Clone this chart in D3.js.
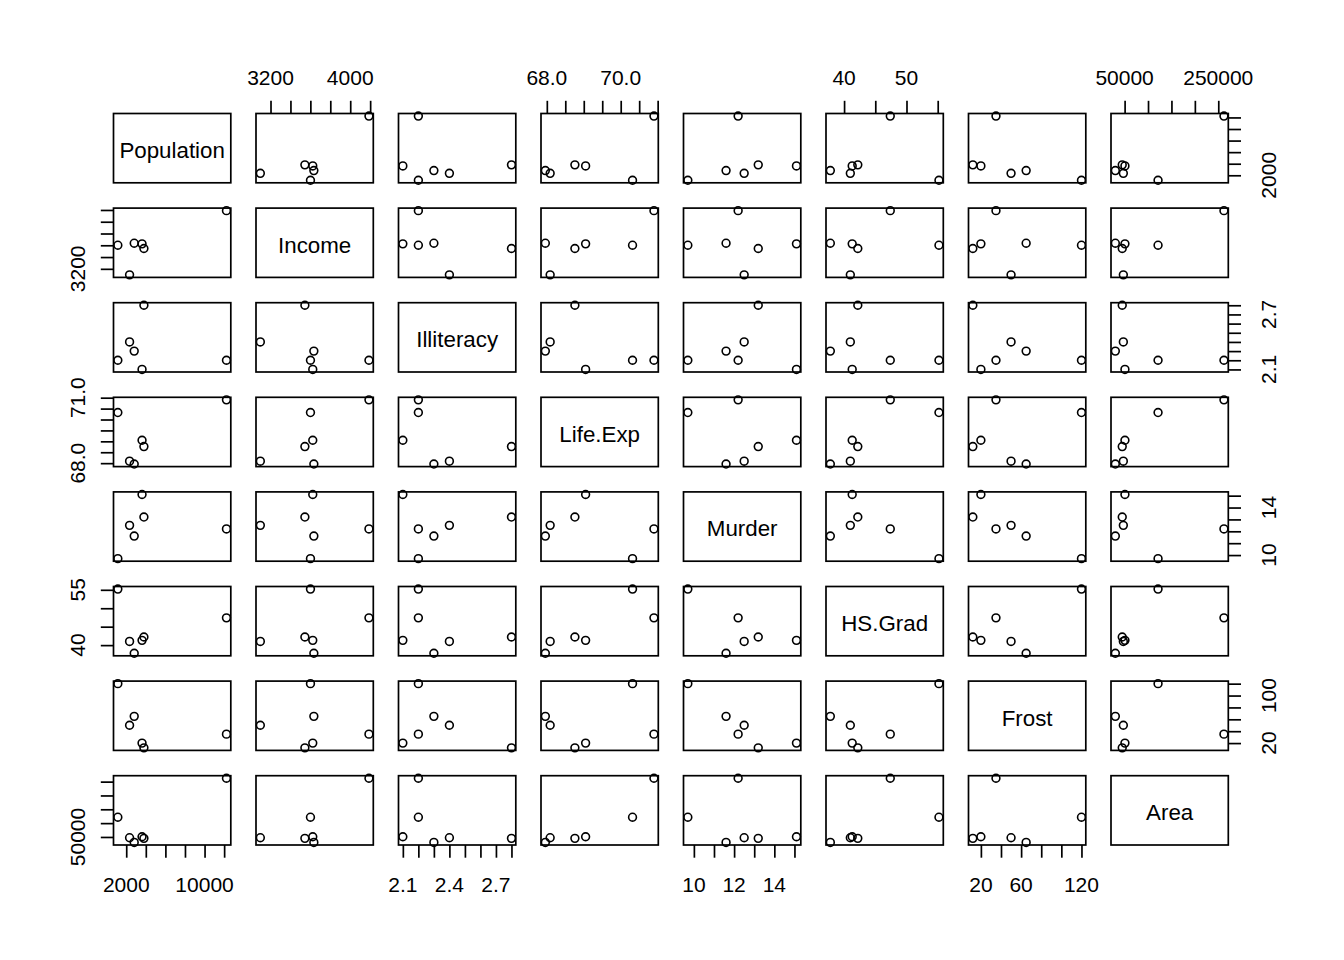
<!DOCTYPE html>
<html><head><meta charset="utf-8">
<script src="https://cdn.jsdelivr.net/npm/d3@7"></script>
<style>
body{margin:0;background:#fff}
text{font-family:"Liberation Sans",Arial,sans-serif;fill:#000}
</style>
</head><body>
<svg id="chart" width="1344" height="960"></svg>
<script>
// Data: state.x77 rows (Alabama, Louisiana, Mississippi, New Mexico, South Carolina, Texas)
const variables = ["Population","Income","Illiteracy","Life.Exp","Murder","HS.Grad","Frost","Area"];
const states = ["Alabama","Louisiana","Mississippi","New Mexico","South Carolina","Texas"];
const population = [3615, 3806, 2341, 1144, 2816, 12237];
const income     = [3624, 3545, 3098, 3601, 3635, 4188];
const illiteracy = [2.1, 2.8, 2.4, 2.2, 2.3, 2.2];
const lifeExp    = [69.05, 68.76, 68.09, 70.32, 67.96, 70.90];
const murder     = [15.1, 13.2, 12.5, 9.7, 11.6, 12.2];
const hsGrad     = [41.3, 42.2, 41.0, 55.2, 37.8, 47.4];
const frost      = [20, 12, 50, 120, 65, 35];
const area       = [50708, 44930, 47296, 121412, 30225, 262134];
const columns = [population, income, illiteracy, lifeExp, murder, hsGrad, frost, area];

// Tick marks per variable
const ticksPopulation = [2000, 4000, 6000, 8000, 10000, 12000];
const ticksIncome     = [3200, 3400, 3600, 3800, 4000, 4200];
const ticksIlliteracy = [2.1, 2.2, 2.3, 2.4, 2.5, 2.6, 2.7, 2.8];
const ticksLifeExp    = [68.0, 68.5, 69.0, 69.5, 70.0, 70.5, 71.0];
const ticksMurder     = [10, 11, 12, 13, 14, 15];
const ticksHsGrad     = [40, 45, 50, 55];
const ticksFrost      = [20, 40, 60, 80, 100, 120];
const ticksArea       = [50000, 100000, 150000, 200000, 250000];
const tickSets = [ticksPopulation, ticksIncome, ticksIlliteracy, ticksLifeExp, ticksMurder, ticksHsGrad, ticksFrost, ticksArea];

// Tick labels that are printed (horizontal axes / vertical axes)
const hTickLabels = [["2000","10000"],["3200","4000"],["2.1","2.4","2.7"],["68.0","70.0"],["10","12","14"],["40","50"],["20","60","120"],["50000","250000"]];
const vTickLabels = [["2000"],["3200"],["2.1","2.7"],["68.0","71.0"],["10","14"],["40","55"],["20","100"],["50000"]];

const n = variables.length;
const left0 = 113.5, top0 = 113.5, colStep = 142.5, rowStep = 94.6;
const pw = 117.3, ph = 69.3;
const tickLen = 12.7;
const lw = 1.7;
const fontSize = 21;

const svg = d3.select("#chart");

function padded(v){
  const mn = d3.min(v), mx = d3.max(v), r = mx - mn;
  return [mn - 0.04*r, mx + 0.04*r];
}
const xScales = columns.map(c => d3.scaleLinear().domain(padded(c)).range([0, pw]));
const yScales = columns.map(c => d3.scaleLinear().domain(padded(c)).range([ph, 0]));

// diagonal label font size: widest label takes 90% of panel width
const tmp = svg.append("text").attr("font-size", 100);
let maxW = 0;
variables.forEach(v => { tmp.text(v); maxW = Math.max(maxW, tmp.node().getComputedTextLength()); });
tmp.remove();
const diagFs = Math.min(2*fontSize, 0.9*pw*100/maxW);

for (let i = 0; i < n; i++) {
  for (let j = 0; j < n; j++) {
    const g = svg.append("g").attr("transform", `translate(${left0 + j*colStep},${top0 + i*rowStep})`);
    const x = xScales[j], y = yScales[i];
    if (i === j) {
      g.append("text").attr("x", pw/2).attr("y", ph/2 + diagFs*0.44)
        .attr("text-anchor","middle").attr("font-size", diagFs).text(variables[i]);
    } else {
      g.selectAll("circle").data(d3.range(states.length)).join("circle")
        .attr("cx", k => x(columns[j][k])).attr("cy", k => y(columns[i][k]))
        .attr("r", 3.9).attr("fill","none").attr("stroke","#000").attr("stroke-width",1.6);
    }
    g.append("rect").attr("width", pw).attr("height", ph)
      .attr("fill","none").attr("stroke","#000").attr("stroke-width", lw);

    const styleAxis = a => { a.select(".domain").remove(); a.selectAll("line").attr("stroke","#000").attr("stroke-width",lw); a.selectAll("text").remove(); };

    // top axis (even 1-based columns)
    if (i === 0 && j % 2 === 1) {
      g.append("g").call(d3.axisTop(x).tickValues(tickSets[j]).tickSize(tickLen).tickSizeOuter(0)).call(styleAxis);
      hTickLabels[j].forEach(l => g.append("text").attr("x", x(+l)).attr("y", -29)
        .attr("text-anchor","middle").attr("font-size", fontSize).text(l));
    }
    // bottom axis (odd 1-based columns)
    if (i === n-1 && j % 2 === 0) {
      g.append("g").attr("transform",`translate(0,${ph})`)
        .call(d3.axisBottom(x).tickValues(tickSets[j]).tickSize(tickLen).tickSizeOuter(0)).call(styleAxis);
      hTickLabels[j].forEach(l => g.append("text").attr("x", x(+l)).attr("y", ph + 47)
        .attr("text-anchor","middle").attr("font-size", fontSize).text(l));
    }
    // left axis (even 1-based rows)
    if (j === 0 && i % 2 === 1) {
      g.append("g").call(d3.axisLeft(y).tickValues(tickSets[i]).tickSize(tickLen).tickSizeOuter(0)).call(styleAxis);
      vTickLabels[i].forEach(l => g.append("text")
        .attr("transform", `translate(-29,${y(+l)}) rotate(-90)`)
        .attr("text-anchor","middle").attr("font-size", fontSize).text(l));
    }
    // right axis (odd 1-based rows)
    if (j === n-1 && i % 2 === 0) {
      g.append("g").attr("transform",`translate(${pw},0)`)
        .call(d3.axisRight(y).tickValues(tickSets[i]).tickSize(tickLen).tickSizeOuter(0)).call(styleAxis);
      vTickLabels[i].forEach(l => g.append("text")
        .attr("transform", `translate(${pw + 48},${y(+l)}) rotate(-90)`)
        .attr("text-anchor","middle").attr("font-size", fontSize).text(l));
    }
  }
}
</script>
</body></html>
